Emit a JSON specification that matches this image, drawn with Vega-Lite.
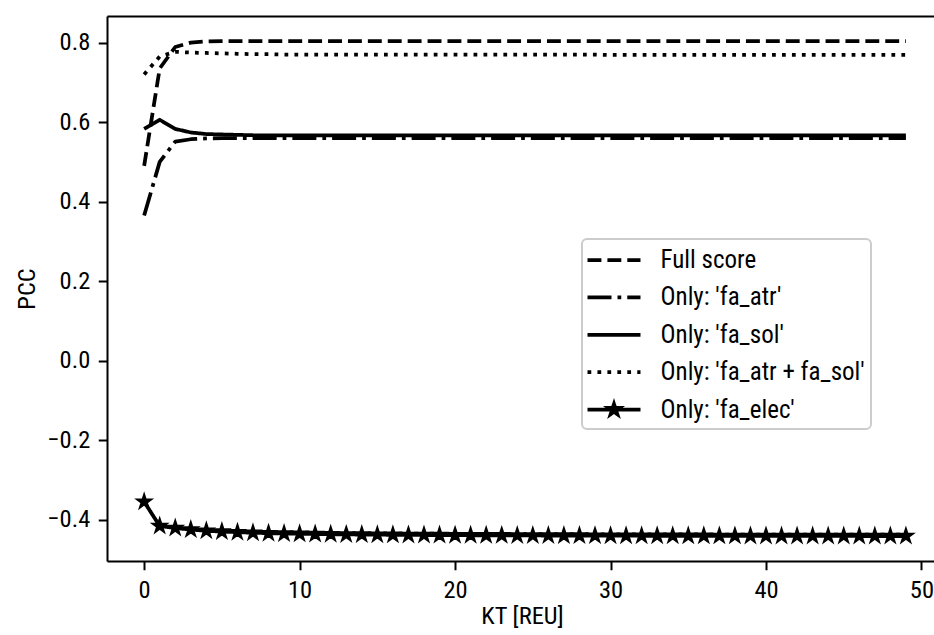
{
  "$schema": "https://vega.github.io/schema/vega-lite/v6.json",
  "width": 830,
  "height": 545,
  "autosize": {"type": "none"},
  "padding": {"left": 107, "top": 16, "right": 0, "bottom": 74},
  "background": "white",
  "config": {
    "font": "Roboto Condensed, Liberation Sans Narrow, DejaVu Sans Condensed, Roboto",
    "view": {"stroke": null},
    "axis": {
      "labelFont": "Roboto Condensed, Liberation Sans Narrow, DejaVu Sans Condensed, Roboto",
      "titleFont": "Roboto Condensed, Liberation Sans Narrow, DejaVu Sans Condensed, Roboto",
      "labelFontSize": 24.5,
      "titleFontSize": 24.5,
      "titleFontWeight": "normal",
      "labelColor": "black",
      "titleColor": "black",
      "tickColor": "black",
      "tickWidth": 2,
      "tickSize": 8.75,
      "labelPadding": 8.5,
      "domain": true,
      "domainColor": "black",
      "domainWidth": 2,
      "grid": false
    },
    "legend": {
      "labelFont": "Roboto Condensed, Liberation Sans Narrow, DejaVu Sans Condensed, Roboto",
      "labelFontSize": 25,
      "labelColor": "black",
      "labelLimit": 400
    }
  },
  "data": {
    "values": [
      {"x":0,"s":"Full score","v":0.49},{"x":1,"s":"Full score","v":0.735},{"x":2,"s":"Full score","v":0.789},{"x":3,"s":"Full score","v":0.8},{"x":4,"s":"Full score","v":0.803},{"x":5,"s":"Full score","v":0.804},{"x":6,"s":"Full score","v":0.804},{"x":7,"s":"Full score","v":0.804},{"x":8,"s":"Full score","v":0.804},{"x":9,"s":"Full score","v":0.804},
      {"x":10,"s":"Full score","v":0.804},{"x":11,"s":"Full score","v":0.804},{"x":12,"s":"Full score","v":0.804},{"x":13,"s":"Full score","v":0.804},{"x":14,"s":"Full score","v":0.804},{"x":15,"s":"Full score","v":0.804},{"x":16,"s":"Full score","v":0.804},{"x":17,"s":"Full score","v":0.804},{"x":18,"s":"Full score","v":0.804},{"x":19,"s":"Full score","v":0.804},
      {"x":20,"s":"Full score","v":0.804},{"x":21,"s":"Full score","v":0.804},{"x":22,"s":"Full score","v":0.804},{"x":23,"s":"Full score","v":0.804},{"x":24,"s":"Full score","v":0.804},{"x":25,"s":"Full score","v":0.804},{"x":26,"s":"Full score","v":0.804},{"x":27,"s":"Full score","v":0.804},{"x":28,"s":"Full score","v":0.804},{"x":29,"s":"Full score","v":0.804},
      {"x":30,"s":"Full score","v":0.804},{"x":31,"s":"Full score","v":0.804},{"x":32,"s":"Full score","v":0.804},{"x":33,"s":"Full score","v":0.804},{"x":34,"s":"Full score","v":0.804},{"x":35,"s":"Full score","v":0.804},{"x":36,"s":"Full score","v":0.804},{"x":37,"s":"Full score","v":0.804},{"x":38,"s":"Full score","v":0.804},{"x":39,"s":"Full score","v":0.804},
      {"x":40,"s":"Full score","v":0.804},{"x":41,"s":"Full score","v":0.804},{"x":42,"s":"Full score","v":0.804},{"x":43,"s":"Full score","v":0.804},{"x":44,"s":"Full score","v":0.804},{"x":45,"s":"Full score","v":0.804},{"x":46,"s":"Full score","v":0.804},{"x":47,"s":"Full score","v":0.804},{"x":48,"s":"Full score","v":0.804},{"x":49,"s":"Full score","v":0.804},

      {"x":0,"s":"Only: 'fa_atr'","v":0.365},{"x":1,"s":"Only: 'fa_atr'","v":0.5},{"x":2,"s":"Only: 'fa_atr'","v":0.551},{"x":3,"s":"Only: 'fa_atr'","v":0.557},{"x":4,"s":"Only: 'fa_atr'","v":0.559},{"x":5,"s":"Only: 'fa_atr'","v":0.56},{"x":6,"s":"Only: 'fa_atr'","v":0.56},{"x":7,"s":"Only: 'fa_atr'","v":0.56},{"x":8,"s":"Only: 'fa_atr'","v":0.56},{"x":9,"s":"Only: 'fa_atr'","v":0.56},
      {"x":10,"s":"Only: 'fa_atr'","v":0.56},{"x":11,"s":"Only: 'fa_atr'","v":0.56},{"x":12,"s":"Only: 'fa_atr'","v":0.56},{"x":13,"s":"Only: 'fa_atr'","v":0.56},{"x":14,"s":"Only: 'fa_atr'","v":0.56},{"x":15,"s":"Only: 'fa_atr'","v":0.56},{"x":16,"s":"Only: 'fa_atr'","v":0.56},{"x":17,"s":"Only: 'fa_atr'","v":0.56},{"x":18,"s":"Only: 'fa_atr'","v":0.56},{"x":19,"s":"Only: 'fa_atr'","v":0.56},
      {"x":20,"s":"Only: 'fa_atr'","v":0.56},{"x":21,"s":"Only: 'fa_atr'","v":0.56},{"x":22,"s":"Only: 'fa_atr'","v":0.56},{"x":23,"s":"Only: 'fa_atr'","v":0.56},{"x":24,"s":"Only: 'fa_atr'","v":0.56},{"x":25,"s":"Only: 'fa_atr'","v":0.56},{"x":26,"s":"Only: 'fa_atr'","v":0.56},{"x":27,"s":"Only: 'fa_atr'","v":0.56},{"x":28,"s":"Only: 'fa_atr'","v":0.56},{"x":29,"s":"Only: 'fa_atr'","v":0.56},
      {"x":30,"s":"Only: 'fa_atr'","v":0.56},{"x":31,"s":"Only: 'fa_atr'","v":0.56},{"x":32,"s":"Only: 'fa_atr'","v":0.56},{"x":33,"s":"Only: 'fa_atr'","v":0.56},{"x":34,"s":"Only: 'fa_atr'","v":0.56},{"x":35,"s":"Only: 'fa_atr'","v":0.56},{"x":36,"s":"Only: 'fa_atr'","v":0.56},{"x":37,"s":"Only: 'fa_atr'","v":0.56},{"x":38,"s":"Only: 'fa_atr'","v":0.56},{"x":39,"s":"Only: 'fa_atr'","v":0.56},
      {"x":40,"s":"Only: 'fa_atr'","v":0.56},{"x":41,"s":"Only: 'fa_atr'","v":0.56},{"x":42,"s":"Only: 'fa_atr'","v":0.56},{"x":43,"s":"Only: 'fa_atr'","v":0.56},{"x":44,"s":"Only: 'fa_atr'","v":0.56},{"x":45,"s":"Only: 'fa_atr'","v":0.56},{"x":46,"s":"Only: 'fa_atr'","v":0.56},{"x":47,"s":"Only: 'fa_atr'","v":0.56},{"x":48,"s":"Only: 'fa_atr'","v":0.56},{"x":49,"s":"Only: 'fa_atr'","v":0.56},

      {"x":0,"s":"Only: 'fa_sol'","v":0.583},{"x":1,"s":"Only: 'fa_sol'","v":0.606},{"x":2,"s":"Only: 'fa_sol'","v":0.583},{"x":3,"s":"Only: 'fa_sol'","v":0.574},{"x":4,"s":"Only: 'fa_sol'","v":0.57},{"x":5,"s":"Only: 'fa_sol'","v":0.569},{"x":6,"s":"Only: 'fa_sol'","v":0.568},{"x":7,"s":"Only: 'fa_sol'","v":0.567},{"x":8,"s":"Only: 'fa_sol'","v":0.567},{"x":9,"s":"Only: 'fa_sol'","v":0.567},
      {"x":10,"s":"Only: 'fa_sol'","v":0.567},{"x":11,"s":"Only: 'fa_sol'","v":0.567},{"x":12,"s":"Only: 'fa_sol'","v":0.567},{"x":13,"s":"Only: 'fa_sol'","v":0.567},{"x":14,"s":"Only: 'fa_sol'","v":0.567},{"x":15,"s":"Only: 'fa_sol'","v":0.567},{"x":16,"s":"Only: 'fa_sol'","v":0.567},{"x":17,"s":"Only: 'fa_sol'","v":0.567},{"x":18,"s":"Only: 'fa_sol'","v":0.567},{"x":19,"s":"Only: 'fa_sol'","v":0.567},
      {"x":20,"s":"Only: 'fa_sol'","v":0.567},{"x":21,"s":"Only: 'fa_sol'","v":0.567},{"x":22,"s":"Only: 'fa_sol'","v":0.567},{"x":23,"s":"Only: 'fa_sol'","v":0.567},{"x":24,"s":"Only: 'fa_sol'","v":0.567},{"x":25,"s":"Only: 'fa_sol'","v":0.567},{"x":26,"s":"Only: 'fa_sol'","v":0.567},{"x":27,"s":"Only: 'fa_sol'","v":0.567},{"x":28,"s":"Only: 'fa_sol'","v":0.567},{"x":29,"s":"Only: 'fa_sol'","v":0.567},
      {"x":30,"s":"Only: 'fa_sol'","v":0.567},{"x":31,"s":"Only: 'fa_sol'","v":0.567},{"x":32,"s":"Only: 'fa_sol'","v":0.567},{"x":33,"s":"Only: 'fa_sol'","v":0.567},{"x":34,"s":"Only: 'fa_sol'","v":0.567},{"x":35,"s":"Only: 'fa_sol'","v":0.567},{"x":36,"s":"Only: 'fa_sol'","v":0.567},{"x":37,"s":"Only: 'fa_sol'","v":0.567},{"x":38,"s":"Only: 'fa_sol'","v":0.567},{"x":39,"s":"Only: 'fa_sol'","v":0.567},
      {"x":40,"s":"Only: 'fa_sol'","v":0.567},{"x":41,"s":"Only: 'fa_sol'","v":0.567},{"x":42,"s":"Only: 'fa_sol'","v":0.567},{"x":43,"s":"Only: 'fa_sol'","v":0.567},{"x":44,"s":"Only: 'fa_sol'","v":0.567},{"x":45,"s":"Only: 'fa_sol'","v":0.567},{"x":46,"s":"Only: 'fa_sol'","v":0.567},{"x":47,"s":"Only: 'fa_sol'","v":0.567},{"x":48,"s":"Only: 'fa_sol'","v":0.567},{"x":49,"s":"Only: 'fa_sol'","v":0.567},

      {"x":0,"s":"Only: 'fa_atr + fa_sol'","v":0.72},{"x":1,"s":"Only: 'fa_atr + fa_sol'","v":0.765},{"x":2,"s":"Only: 'fa_atr + fa_sol'","v":0.777},{"x":3,"s":"Only: 'fa_atr + fa_sol'","v":0.775},{"x":4,"s":"Only: 'fa_atr + fa_sol'","v":0.774},{"x":5,"s":"Only: 'fa_atr + fa_sol'","v":0.773},{"x":6,"s":"Only: 'fa_atr + fa_sol'","v":0.772},{"x":7,"s":"Only: 'fa_atr + fa_sol'","v":0.771},{"x":8,"s":"Only: 'fa_atr + fa_sol'","v":0.771},{"x":9,"s":"Only: 'fa_atr + fa_sol'","v":0.77},
      {"x":10,"s":"Only: 'fa_atr + fa_sol'","v":0.77},{"x":11,"s":"Only: 'fa_atr + fa_sol'","v":0.77},{"x":12,"s":"Only: 'fa_atr + fa_sol'","v":0.77},{"x":13,"s":"Only: 'fa_atr + fa_sol'","v":0.77},{"x":14,"s":"Only: 'fa_atr + fa_sol'","v":0.77},{"x":15,"s":"Only: 'fa_atr + fa_sol'","v":0.77},{"x":16,"s":"Only: 'fa_atr + fa_sol'","v":0.77},{"x":17,"s":"Only: 'fa_atr + fa_sol'","v":0.77},{"x":18,"s":"Only: 'fa_atr + fa_sol'","v":0.77},{"x":19,"s":"Only: 'fa_atr + fa_sol'","v":0.77},
      {"x":20,"s":"Only: 'fa_atr + fa_sol'","v":0.77},{"x":21,"s":"Only: 'fa_atr + fa_sol'","v":0.77},{"x":22,"s":"Only: 'fa_atr + fa_sol'","v":0.77},{"x":23,"s":"Only: 'fa_atr + fa_sol'","v":0.77},{"x":24,"s":"Only: 'fa_atr + fa_sol'","v":0.77},{"x":25,"s":"Only: 'fa_atr + fa_sol'","v":0.77},{"x":26,"s":"Only: 'fa_atr + fa_sol'","v":0.77},{"x":27,"s":"Only: 'fa_atr + fa_sol'","v":0.77},{"x":28,"s":"Only: 'fa_atr + fa_sol'","v":0.77},{"x":29,"s":"Only: 'fa_atr + fa_sol'","v":0.77},
      {"x":30,"s":"Only: 'fa_atr + fa_sol'","v":0.769},{"x":31,"s":"Only: 'fa_atr + fa_sol'","v":0.769},{"x":32,"s":"Only: 'fa_atr + fa_sol'","v":0.769},{"x":33,"s":"Only: 'fa_atr + fa_sol'","v":0.769},{"x":34,"s":"Only: 'fa_atr + fa_sol'","v":0.769},{"x":35,"s":"Only: 'fa_atr + fa_sol'","v":0.769},{"x":36,"s":"Only: 'fa_atr + fa_sol'","v":0.769},{"x":37,"s":"Only: 'fa_atr + fa_sol'","v":0.769},{"x":38,"s":"Only: 'fa_atr + fa_sol'","v":0.769},{"x":39,"s":"Only: 'fa_atr + fa_sol'","v":0.769},
      {"x":40,"s":"Only: 'fa_atr + fa_sol'","v":0.769},{"x":41,"s":"Only: 'fa_atr + fa_sol'","v":0.769},{"x":42,"s":"Only: 'fa_atr + fa_sol'","v":0.769},{"x":43,"s":"Only: 'fa_atr + fa_sol'","v":0.769},{"x":44,"s":"Only: 'fa_atr + fa_sol'","v":0.769},{"x":45,"s":"Only: 'fa_atr + fa_sol'","v":0.769},{"x":46,"s":"Only: 'fa_atr + fa_sol'","v":0.769},{"x":47,"s":"Only: 'fa_atr + fa_sol'","v":0.769},{"x":48,"s":"Only: 'fa_atr + fa_sol'","v":0.769},{"x":49,"s":"Only: 'fa_atr + fa_sol'","v":0.769},

      {"x":0,"s":"Only: 'fa_elec'","v":-0.355},{"x":1,"s":"Only: 'fa_elec'","v":-0.416},{"x":2,"s":"Only: 'fa_elec'","v":-0.421},{"x":3,"s":"Only: 'fa_elec'","v":-0.425},{"x":4,"s":"Only: 'fa_elec'","v":-0.428},{"x":5,"s":"Only: 'fa_elec'","v":-0.43},{"x":6,"s":"Only: 'fa_elec'","v":-0.4315},{"x":7,"s":"Only: 'fa_elec'","v":-0.433},{"x":8,"s":"Only: 'fa_elec'","v":-0.434},{"x":9,"s":"Only: 'fa_elec'","v":-0.435},
      {"x":10,"s":"Only: 'fa_elec'","v":-0.4356},{"x":11,"s":"Only: 'fa_elec'","v":-0.4362},{"x":12,"s":"Only: 'fa_elec'","v":-0.4367},{"x":13,"s":"Only: 'fa_elec'","v":-0.4371},{"x":14,"s":"Only: 'fa_elec'","v":-0.4375},{"x":15,"s":"Only: 'fa_elec'","v":-0.4378},{"x":16,"s":"Only: 'fa_elec'","v":-0.4381},{"x":17,"s":"Only: 'fa_elec'","v":-0.4384},{"x":18,"s":"Only: 'fa_elec'","v":-0.4386},{"x":19,"s":"Only: 'fa_elec'","v":-0.4388},
      {"x":20,"s":"Only: 'fa_elec'","v":-0.439},{"x":21,"s":"Only: 'fa_elec'","v":-0.4392},{"x":22,"s":"Only: 'fa_elec'","v":-0.4394},{"x":23,"s":"Only: 'fa_elec'","v":-0.4395},{"x":24,"s":"Only: 'fa_elec'","v":-0.4397},{"x":25,"s":"Only: 'fa_elec'","v":-0.4398},{"x":26,"s":"Only: 'fa_elec'","v":-0.4399},{"x":27,"s":"Only: 'fa_elec'","v":-0.44},{"x":28,"s":"Only: 'fa_elec'","v":-0.4401},{"x":29,"s":"Only: 'fa_elec'","v":-0.4402},
      {"x":30,"s":"Only: 'fa_elec'","v":-0.4403},{"x":31,"s":"Only: 'fa_elec'","v":-0.4404},{"x":32,"s":"Only: 'fa_elec'","v":-0.4405},{"x":33,"s":"Only: 'fa_elec'","v":-0.4405},{"x":34,"s":"Only: 'fa_elec'","v":-0.4406},{"x":35,"s":"Only: 'fa_elec'","v":-0.4407},{"x":36,"s":"Only: 'fa_elec'","v":-0.4407},{"x":37,"s":"Only: 'fa_elec'","v":-0.4408},{"x":38,"s":"Only: 'fa_elec'","v":-0.4408},{"x":39,"s":"Only: 'fa_elec'","v":-0.4409},
      {"x":40,"s":"Only: 'fa_elec'","v":-0.4409},{"x":41,"s":"Only: 'fa_elec'","v":-0.441},{"x":42,"s":"Only: 'fa_elec'","v":-0.441},{"x":43,"s":"Only: 'fa_elec'","v":-0.441},{"x":44,"s":"Only: 'fa_elec'","v":-0.4411},{"x":45,"s":"Only: 'fa_elec'","v":-0.4411},{"x":46,"s":"Only: 'fa_elec'","v":-0.4411},{"x":47,"s":"Only: 'fa_elec'","v":-0.4412},{"x":48,"s":"Only: 'fa_elec'","v":-0.4412},{"x":49,"s":"Only: 'fa_elec'","v":-0.4412}
    ]
  },
  "layer": [
    {
      "mark": {"type": "line", "color": "black", "strokeWidth": 3.75, "strokeCap": "butt", "strokeJoin": "round"},
      "encoding": {
        "x": {
          "field": "x", "type": "quantitative",
          "scale": {"domain": [-2.39, 51.0], "nice": false, "zero": false},
          "axis": {"values": [0, 10, 20, 30, 40, 50], "format": "d", "title": "KT [REU]", "titlePadding": 3}
        },
        "y": {
          "field": "v", "type": "quantitative",
          "scale": {"domain": [-0.504, 0.867], "nice": false, "zero": false},
          "axis": {"values": [-0.4, -0.2, 0, 0.2, 0.4, 0.6, 0.8], "format": ".1f", "title": "PCC", "titlePadding": 7}
        },
        "strokeDash": {
          "field": "s", "type": "nominal",
          "scale": {
            "domain": ["Full score", "Only: 'fa_atr'", "Only: 'fa_sol'", "Only: 'fa_atr + fa_sol'", "Only: 'fa_elec'"],
            "range": [[13.9, 6], [24, 6, 3.75, 6], [1, 0], [3.75, 6.2], [1, 0]]
          },
          "legend": {
            "title": null,
            "orient": "none",
            "legendX": 475,
            "legendY": 223,
            "padding": 5.5,
            "fillColor": "rgba(255,255,255,0.8)",
            "strokeColor": "#cccccc",
            "cornerRadius": 5,
            "symbolSize": 702,
            "symbolStrokeWidth": 3.75,
            "symbolStrokeColor": "black",
            "symbolOffset": 11,
            "labelOffset": 31,
            "labelLimit": 400,
            "rowPadding": 8.4,
            "encode": {
              "legend": {"update": {"strokeWidth": {"value": 2}}},
              "symbols": {
                "update": {
                  "shape": {"signal": "datum.index === 4 ? 'M-2,0H2M0,-0.42L0.094,-0.13L0.4,-0.13L0.153,0.05L0.247,0.34L0,0.16L-0.247,0.34L-0.153,0.05L-0.4,-0.13L-0.094,-0.13Z' : 'M-2,0H2'"},
                  "fill": {"signal": "datum.index === 4 ? 'black' : 'transparent'"},
                  "stroke": {"value": "black"},
                  "strokeWidth": {"value": 3.75}
                }
              }
            }
          }
        }
      }
    },
    {
      "transform": [{"filter": {"field": "s", "equal": "Only: 'fa_elec'"}}],
      "mark": {
        "type": "point",
        "shape": "M0,-1L0.2245,-0.309L0.9511,-0.309L0.3633,0.118L0.5878,0.809L0,0.382L-0.5878,0.809L-0.3633,0.118L-0.9511,-0.309L-0.2245,-0.309Z",
        "size": 210,
        "filled": true,
        "fill": "black",
        "stroke": "black",
        "strokeWidth": 2,
        "opacity": 1
      },
      "encoding": {
        "x": {
          "field": "x", "type": "quantitative",
          "axis": {"orient": "top", "labels": false, "ticks": false, "title": null, "domain": true}
        },
        "y": {"field": "v", "type": "quantitative"}
      }
    }
  ],
  "resolve": {"axis": {"x": "independent"}}
}
